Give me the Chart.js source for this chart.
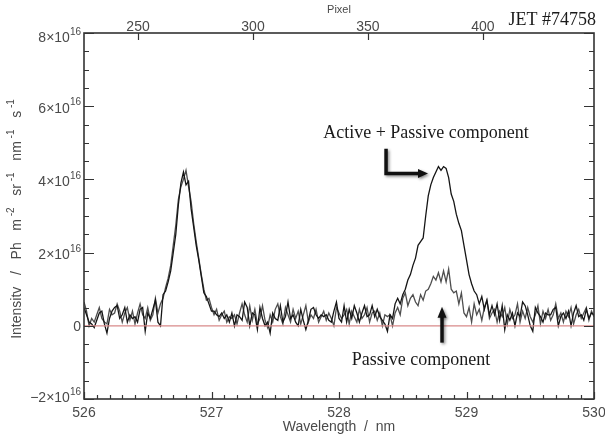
<!DOCTYPE html>
<html>
<head>
<meta charset="utf-8">
<script src="https://cdn.jsdelivr.net/npm/chart.js@4.4.1/dist/chart.umd.min.js"></script>
<style>
  html, body { margin: 0; padding: 0; background: #fff; }
</style>
</head>
<body>
<canvas id="spec" width="605" height="441"></canvas>
<script>
// wavelength grid (nm)
const wlStart = 526.0;
const wlStep = 0.02;

// intensities in units of 1e16 Ph m-2 sr-1 nm-1 s-1
const activePassive = [
  // 526.00 - 526.58
  0.5, 0.3, 0.1, 0.05, -0.05, 0.15, 0.35, 0.4, 0.05, -0.2,
  0.2, 0.4, 0.5, 0.55, 0.2, 0.3, 0.5, 0.1, 0.3, 0.2,
  0.25, 0.1, 0.45, 0.5, -0.15, 0.35, 0.2, 0.45, 0.7, 0.1,
  // 526.60 - 526.98
  0.0, 0.85, 0.95, 1.2, 1.5, 2.0, 2.5, 3.3, 3.9, 4.2,
  3.85, 3.95, 3.2, 2.7, 2.2, 1.8, 1.35, 0.9, 0.8, 0.6,
  // 527.00 - 527.98
  0.4, 0.4, 0.3, 0.25, 0.35, 0.2, 0.3, 0.1, 0.35, 0.0,
  0.3, 0.25, 0.15, 0.65, 0.5, 0.0, 0.35, 0.3, -0.1, 0.5,
  0.2, 0.0, 0.1, -0.2, 0.35, 0.2, 0.15, 0.55, 0.1, 0.25,
  0.65, 0.2, 0.3, 0.1, 0.0, 0.45, 0.15, -0.1, 0.15, 0.45,
  0.5, 0.3, 0.2, 0.3, 0.25, 0.3, 0.15, 0.1, 0.4, 0.65,
  // 528.00 - 528.38
  0.2, 0.1, 0.55, 0.1, 0.45, 0.2, 0.55, 0.35, 0.1, 0.35,
  0.55, 0.25, 0.3, 0.55, 0.25, 0.45, 0.25, 0.15, 0.05, -0.15,
  // 528.40 - 528.98
  0.3, 0.2, 0.6, 0.75, 0.6, 0.85, 1.0, 1.25, 1.4, 1.65,
  1.85, 2.2, 2.3, 2.4, 3.0, 3.55, 3.85, 4.05, 4.2, 4.35,
  4.25, 4.35, 4.3, 4.05, 3.6, 3.4, 3.05, 2.8, 2.6, 2.2,
  // 529.00 - 529.38
  1.8, 1.4, 1.15, 0.95, 0.85, 0.6, 0.8, 0.45, 0.7, 0.3,
  0.55, 0.3, 0.6, 0.15, 0.55, -0.1, 0.3, 0.15, 0.35, 0.0,
  // 529.40 - 530.00
  0.35, 0.25, 0.65, 0.55, 0.3, 0.0, -0.15, 0.5, 0.35, 0.25,
  0.1, 0.35, 0.3, 0.3, 0.45, 0.5, 0.0, 0.25, 0.35, 0.2,
  0.4, 0.0, 0.35, 0.55, 0.25, 0.3, 0.15, 0.45, 0.2, 0.35,
  0.3
];

const passive = [
  // 526.00 - 526.58
  0.65, 0.4, 0.0, 0.2, 0.1, 0.3, 0.5, 0.2, 0.1, 0.05,
  0.45, 0.3, 0.35, 0.6, 0.4, 0.1, 0.35, 0.5, 0.15, 0.4,
  0.05, 0.35, 0.6, 0.3, 0.2, 0.5, 0.15, 0.3, 0.75, 0.35,
  // 526.60 - 526.98
  0.6, 0.75, 1.05, 1.3, 1.65, 2.2, 2.75, 3.45, 3.8, 4.0,
  4.25, 3.8, 3.4, 2.8, 2.3, 1.85, 1.4, 1.0, 0.7, 0.75,
  // 527.00 - 527.98
  0.5, 0.3, 0.45, 0.15, 0.3, 0.4, 0.1, 0.25, 0.2, 0.3,
  0.05, 0.35, 0.6, 0.3, 0.1, 0.55, 0.15, 0.45, 0.05, 0.2,
  0.55, 0.15, -0.05, 0.3, 0.1, 0.45, 0.6, 0.25, 0.05, 0.5,
  0.3, 0.1, 0.45, 0.2, 0.4, 0.05, 0.3, 0.55, 0.1, 0.3,
  0.2, 0.45, 0.1, 0.25, 0.4, 0.15, 0.35, 0.2, 0.0, 0.5,
  // 528.00 - 528.38
  0.35, 0.2, 0.3, 0.45, 0.05, 0.4, 0.25, 0.1, 0.45, 0.2,
  0.3, 0.5, 0.1, 0.35, 0.4, 0.15, 0.35, 0.0, 0.3, 0.25,
  // 528.40 - 528.98
  0.3, 0.0, 0.35, 0.5, 0.3, 0.75, 0.9, 0.55, 0.75, 0.85,
  0.65, 0.55, 0.85, 0.7, 0.95, 1.0, 1.15, 1.35, 1.25, 1.45,
  1.2, 1.5, 1.2, 1.55, 1.0, 0.9, 0.95, 0.6, 0.9, 0.35,
  // 529.00 - 529.38
  0.25, 0.5, 0.1, 0.6, 0.3, 0.45, 0.15, 0.5, 0.7, 0.2,
  0.35, 0.45, 0.1, 0.4, 0.25, 0.5, 0.05, 0.45, 0.2, 0.3,
  // 529.40 - 530.00
  0.6, 0.1, 0.4, 0.2, 0.5, 0.25, 0.1, 0.3, 0.55, 0.05,
  0.4, 0.2, 0.45, 0.15, 0.3, 0.6, 0.2, 0.35, 0.1, 0.4,
  0.25, 0.5, 0.05, 0.3, 0.45, 0.2, 0.35, 0.5, 0.15, 0.4,
  0.25
];

// axes
const xTicks = [526, 527, 528, 529, 530];
const pixelTicks = [250, 300, 350, 400];
const pixelRange = [226.5, 448.3];
const yTicks = [-2, 0, 2, 4, 6, 8];
const yTickLabels = ['\u22122', '0', '2', '4', '6', '8'];
const yExp = '16';

const sans = 'Liberation Sans, Arial, sans-serif';
const serif = 'Liberation Serif, Times New Roman, serif';
const txtColor = '#4a4a4a';
const axisColor = '#333';

function toPoints(vals) {
  return vals.map((v, i) => ({ x: +(wlStart + i * wlStep).toFixed(2), y: v }));
}

function setTicks(list) {
  return s => { s.ticks = list.map(v => ({ value: v })); };
}

// superscript-aware text run; returns width
function richWidth(ctx, parts, size, supSize) {
  let w = 0;
  parts.forEach(p => {
    ctx.font = (p.sup ? supSize : size) + 'px ' + sans;
    w += ctx.measureText(p.t).width;
  });
  return w;
}
function drawRich(ctx, parts, x, y, size, supSize, rise) {
  parts.forEach(p => {
    ctx.font = (p.sup ? supSize : size) + 'px ' + sans;
    ctx.fillText(p.t, x, p.sup ? y - rise : y);
    x += ctx.measureText(p.t).width;
  });
}

const frame = {
  id: 'frame',
  afterDraw(chart) {
    const { ctx, chartArea: a, scales } = chart;
    const x = scales.x, x2 = scales.x2, y = scales.y;
    ctx.save();

    // box
    ctx.strokeStyle = axisColor;
    ctx.lineWidth = 1.6;
    ctx.strokeRect(a.left, a.top, a.right - a.left, a.bottom - a.top);

    // ticks, pointing inwards
    ctx.lineWidth = 1.2;
    ctx.beginPath();
    for (let k = 0; k <= 20; k++) {
      const py = Math.round(y.getPixelForValue(-2 + k * 0.5)) + 0.5;
      const len = k % 4 === 0 ? 10 : 5;
      ctx.moveTo(a.left, py); ctx.lineTo(a.left + len, py);
      ctx.moveTo(a.right, py); ctx.lineTo(a.right - len, py);
    }
    for (let k = 0; k <= 40; k++) {
      const px = Math.round(x.getPixelForValue(526 + k * 0.1)) + 0.5;
      const len = k % 10 === 0 ? 7 : 4;
      ctx.moveTo(px, a.bottom); ctx.lineTo(px, a.bottom - len);
    }
    pixelTicks.forEach(v => {
      const px = Math.round(x2.getPixelForValue(v)) + 0.5;
      ctx.moveTo(px, a.top); ctx.lineTo(px, a.top + 7);
    });
    ctx.stroke();

    // y tick labels with exponent
    ctx.fillStyle = txtColor;
    ctx.textBaseline = 'middle';
    ctx.textAlign = 'left';
    yTicks.forEach((v, i) => {
      const py = y.getPixelForValue(v);
      const parts = v === 0 ? [{ t: '0' }] : [{ t: yTickLabels[i] + '\u00d710' }, { t: yExp, sup: true }];
      const w = richWidth(ctx, parts, 14, 10);
      let dy = v === 0 ? 1 : 2.5;
      if (v === yTicks[yTicks.length - 1]) dy = 5;
      if (v === yTicks[0]) dy = -1;
      drawRich(ctx, parts, a.left - 3 - w, py + dy, 14, 10, 6);
    });

    // y title, rotated
    const title = [
      { t: 'Intensitv   /   Ph   m' }, { t: ' -2', sup: true },
      { t: '   sr' }, { t: ' -1', sup: true },
      { t: '   nm' }, { t: ' -1', sup: true },
      { t: '   s' }, { t: ' -1', sup: true }
    ];
    ctx.save();
    ctx.translate(17, (a.top + a.bottom) / 2 + 3);
    ctx.rotate(-Math.PI / 2);
    const tw = richWidth(ctx, title, 14, 10);
    drawRich(ctx, title, -tw / 2, 0, 14, 10, 6);
    ctx.restore();

    // annotations
    ctx.fillStyle = '#1a1a1a';
    ctx.font = '18px ' + serif;
    ctx.textBaseline = 'alphabetic';
    ctx.textAlign = 'center';
    ctx.fillText('Active + Passive component', x.getPixelForValue(528.682), y.getPixelForValue(5.14));
    ctx.fillText('Passive component', x.getPixelForValue(528.643), y.getPixelForValue(-1.06));
    ctx.textAlign = 'right';
    ctx.fillText('JET #74758', x.getPixelForValue(530.016), y.getPixelForValue(8.23));

    // arrows
    ctx.shadowColor = 'rgba(0,0,0,0.45)';
    ctx.shadowBlur = 3;
    ctx.shadowOffsetX = 1.5;
    ctx.shadowOffsetY = 1.5;
    ctx.strokeStyle = '#111';
    ctx.fillStyle = '#111';
    ctx.lineWidth = 3.5;
    const lx = x.getPixelForValue(528.369);
    const ly0 = y.getPixelForValue(4.84), ly1 = y.getPixelForValue(4.16);
    const lTip = x.getPixelForValue(528.698);
    ctx.beginPath();
    ctx.moveTo(lx, ly0); ctx.lineTo(lx, ly1); ctx.lineTo(lTip - 8, ly1);
    ctx.stroke();
    ctx.beginPath();
    ctx.moveTo(lTip, ly1); ctx.lineTo(lTip - 10, ly1 - 4.5); ctx.lineTo(lTip - 10, ly1 + 4.5);
    ctx.closePath(); ctx.fill();

    const ux = x.getPixelForValue(528.808);
    const uTail = y.getPixelForValue(-0.46), uTip = y.getPixelForValue(0.52);
    ctx.beginPath();
    ctx.moveTo(ux, uTail); ctx.lineTo(ux, uTip + 8);
    ctx.stroke();
    ctx.beginPath();
    ctx.moveTo(ux, uTip); ctx.lineTo(ux - 4.5, uTip + 11); ctx.lineTo(ux + 4.5, uTip + 11);
    ctx.closePath(); ctx.fill();

    ctx.restore();
  }
};

new Chart(document.getElementById('spec'), {
  type: 'line',
  data: {
    datasets: [
      {
        label: 'zero',
        data: [{ x: 526, y: 0 }, { x: 530, y: 0 }],
        borderColor: '#d88a8a',
        borderWidth: 1.2
      }, {
        label: 'Active + Passive component',
        data: toPoints(activePassive),
        borderColor: '#151515',
        borderWidth: 1.3
      }, {
        label: 'Passive component',
        data: toPoints(passive),
        borderColor: '#4e4e4e',
        borderWidth: 1.3
      }]
  },
  options: {
    responsive: false,
    animation: false,
    events: [],
    layout: { padding: { left: 0, right: 11, top: 0, bottom: 0 } },
    elements: { point: { radius: 0 }, line: { tension: 0 } },
    plugins: { legend: { display: false }, tooltip: { enabled: false } },
    scales: {
      x: {
        type: 'linear',
        position: 'bottom',
        min: 526,
        max: 530,
        afterBuildTicks: setTicks(xTicks),
        ticks: { font: { family: sans, size: 14 }, color: txtColor, padding: 6, maxRotation: 0, autoSkip: false, callback: v => String(v) },
        grid: { display: false, drawTicks: false },
        border: { display: false },
        title: { display: true, text: 'Wavelength  /  nm', color: txtColor, font: { family: sans, size: 14 }, padding: { top: 0, bottom: 5 } },
        afterFit: s => { s.height = 42; s.paddingLeft = 0; s.paddingRight = 0; }
      },
      x2: {
        type: 'linear',
        position: 'top',
        min: pixelRange[0],
        max: pixelRange[1],
        afterBuildTicks: setTicks(pixelTicks),
        ticks: { font: { family: sans, size: 14 }, color: txtColor, padding: -3, maxRotation: 0, autoSkip: false, callback: v => String(v) },
        grid: { display: false, drawTicks: false },
        border: { display: false },
        title: { display: true, text: 'Pixel', color: txtColor, font: { family: sans, size: 11 }, padding: { top: 3, bottom: 0 } },
        afterFit: s => { s.height = 33; s.paddingLeft = 0; s.paddingRight = 0; }
      },
      y: {
        type: 'linear',
        position: 'left',
        min: -2,
        max: 8,
        afterBuildTicks: setTicks(yTicks),
        ticks: { display: false },
        grid: { display: false, drawTicks: false },
        border: { display: false },
        afterFit: s => { s.width = 84; }
      }
    }
  },
  plugins: [frame]
});
</script>
</body>
</html>
